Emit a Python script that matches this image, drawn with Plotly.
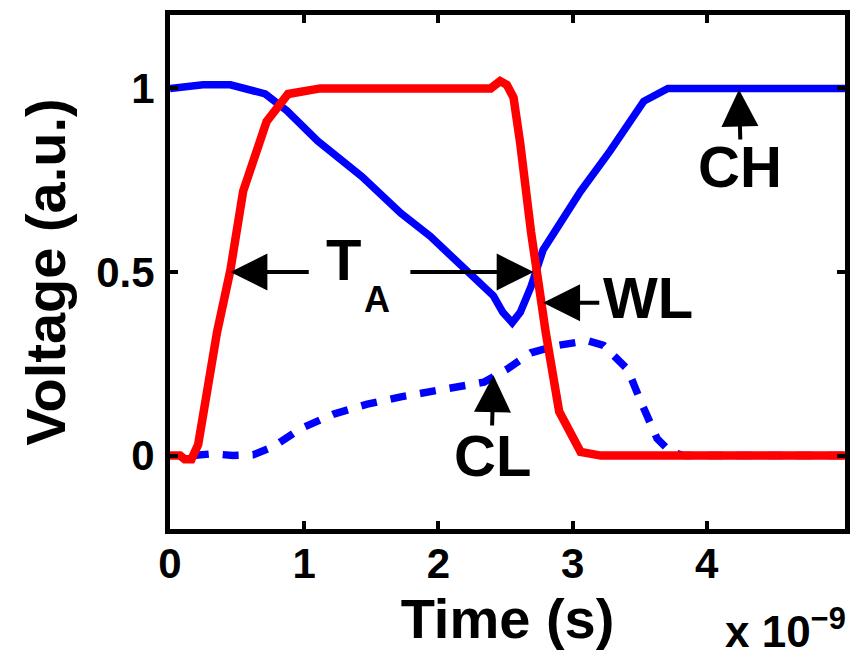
import plotly.graph_objects as go

# time in units of 1e-9 s
ch_t = [0, 0.246, 0.45, 0.71, 0.87, 1.10, 1.43, 1.72, 1.94, 2.26, 2.41, 2.48, 2.55, 2.61, 2.69, 2.78, 2.93, 3.06, 3.28, 3.41, 3.53, 3.71, 5.03]
ch_v = [1.0, 1.01, 1.01, 0.985, 0.94, 0.857, 0.76, 0.66, 0.597, 0.49, 0.435, 0.39, 0.362, 0.39, 0.46, 0.56, 0.65, 0.72, 0.83, 0.90, 0.965, 1.0, 1.0]

wl_t = [0, 0.075, 0.11, 0.16, 0.21, 0.246, 0.30, 0.336, 0.35, 0.45, 0.545, 0.72, 0.88, 1.12, 2.39, 2.46, 2.51, 2.56, 2.61, 2.69, 2.74, 2.80, 2.90, 3.06, 3.21, 5.03]
wl_v = [0.0, 0.0, -0.01, -0.01, 0.03, 0.11, 0.2, 0.3, 0.335, 0.505, 0.72, 0.91, 0.985, 1.0, 1.0, 1.02, 1.01, 0.975, 0.85, 0.61, 0.48, 0.335, 0.12, 0.01, 0.0, 0.0]

cl_t = [0.17, 0.32, 0.47, 0.62, 0.77, 0.97, 1.22, 1.47, 1.72, 1.94, 2.34, 2.51, 2.69, 2.89, 3.11, 3.23, 3.41, 3.51, 3.63, 3.73, 3.83, 5.03]
cl_v = [0.0, 0.005, 0.0, 0.002, 0.024, 0.073, 0.113, 0.14, 0.16, 0.173, 0.2, 0.235, 0.28, 0.30, 0.313, 0.30, 0.235, 0.146, 0.046, 0.01, 0.0, 0.0]

x_ticks = [0, 1, 2, 3, 4]
y_ticks = [0, 0.5, 1]

FONT = "Arial, Liberation Sans, sans-serif"

fig = go.Figure()
fig.add_trace(go.Scatter(x=cl_t, y=cl_v, mode="lines",
                         line=dict(color="#0000FF", width=7.5, dash="16px,14px")))
fig.add_trace(go.Scatter(x=ch_t, y=ch_v, mode="lines",
                         line=dict(color="#0000FF", width=7.5)))
fig.add_trace(go.Scatter(x=wl_t, y=wl_v, mode="lines",
                         line=dict(color="#FF0000", width=8.5)))

def arrow(tx, ty, ax, ay):
    fig.add_annotation(x=tx, y=ty, ax=ax, ay=ay, xref="x", yref="y", axref="x", ayref="y",
                       text="", showarrow=True, arrowhead=2, arrowsize=1.85,
                       arrowwidth=4, arrowcolor="black")

arrow(0.45, 0.5, 1.045, 0.5)
arrow(2.71, 0.5, 1.78, 0.5)
arrow(2.78, 0.416, 3.21, 0.416)
arrow(4.24, 0.997, 4.25, 0.857)
arrow(2.41, 0.219, 2.40, 0.078)

def label(x, y, s, size):
    fig.add_annotation(x=x, y=y, xref="x", yref="y", text=s, showarrow=False,
                       xanchor="center", yanchor="middle",
                       font=dict(family=FONT, size=size, color="black", weight="bold"))

label(1.29, 0.534, "T", 58)
label(1.54, 0.425, "A", 36)
label(3.56, 0.431, "WL", 58)
label(4.25, 0.788, "CH", 58)
label(2.40, 0.0, "CL", 58)

fig.add_annotation(x=1.003, y=-0.249, xref="paper", yref="paper", xanchor="right", yanchor="bottom",
                   text="x 10<sup>−9</sup>", showarrow=False, borderpad=0,
                   font=dict(family=FONT, size=44, color="black", weight="bold"))

axis_common = dict(showline=True, linecolor="black", linewidth=5, mirror="ticks",
                   ticks="inside", ticklen=8, tickwidth=4, tickcolor="black",
                   showgrid=False, zeroline=False,
                   tickfont=dict(family=FONT, size=42, color="black", weight="bold"))

fig.update_xaxes(range=[0, 5.03], tickvals=x_ticks, ticktext=[str(v) for v in x_ticks],
                 title=dict(text="Time (s)", standoff=8,
                            font=dict(family=FONT, size=56, color="black", weight="bold")),
                 ticklabelstandoff=-6, **axis_common)
fig.update_yaxes(range=[-0.2, 1.2], tickvals=y_ticks, ticktext=["0", "0.5", "1"],
                 title=dict(text="Voltage (a.u.)", standoff=14,
                            font=dict(family=FONT, size=56, color="black", weight="bold")),
                 ticklabelstandoff=2, **axis_common)

fig.update_layout(width=862, height=660, margin=dict(l=170, r=17, t=10, b=131),
                  plot_bgcolor="white", paper_bgcolor="white", showlegend=False)

fig.write_html("out.html")
